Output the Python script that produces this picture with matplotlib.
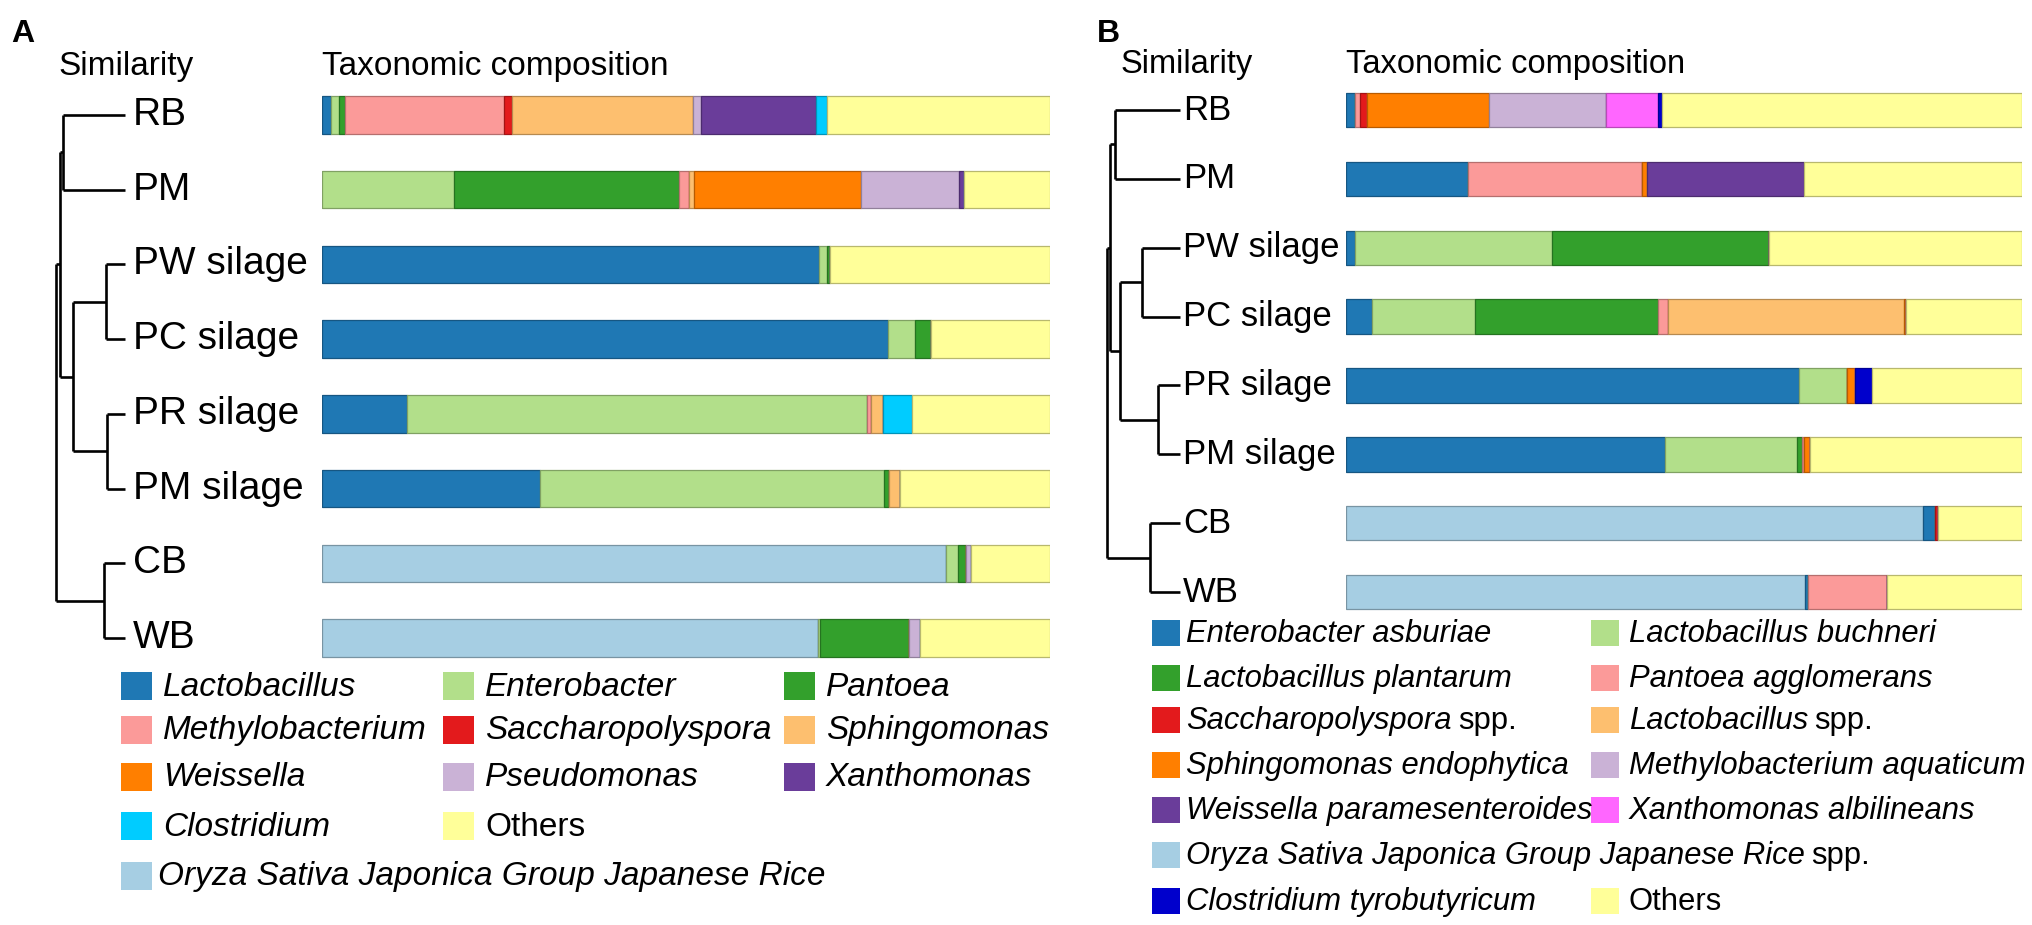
import matplotlib
matplotlib.use("Agg")
import matplotlib.pyplot as plt
from matplotlib.patches import Rectangle
import matplotlib.colors as mcolors
import matplotlib.transforms as mtrans
import numpy as np

plt.rcParams['font.family'] = ['Liberation Sans', 'DejaVu Sans']

# ---------------- data ----------------
samples = ["RB", "PM", "PW silage", "PC silage", "PR silage", "PM silage", "CB", "WB"]

# Panel A: genus level (%), rows follow `samples`
A_taxa = ["Oryza", "Lactobacillus", "Enterobacter", "Pantoea", "Methylobacterium",
          "Saccharopolyspora", "Sphingomonas", "Weissella", "Pseudomonas",
          "Xanthomonas", "Clostridium", "Others"]
A_oryza = [0, 0, 0, 0, 0, 0, 85.7, 68.1]
A_lacto = [1.2, 0, 68.3, 77.8, 11.7, 30.0, 0, 0]
A_entero = [1.2, 18.2, 1.1, 3.7, 63.1, 47.2, 1.6, 0.3]
A_pantoea = [0.8, 30.9, 0.4, 2.1, 0, 0.7, 1.2, 12.3]
A_methylo = [21.8, 1.3, 0, 0, 0.6, 0, 0, 0]
A_sacchar = [1.1, 0, 0, 0, 0, 0, 0, 0]
A_sphingo = [24.8, 0.7, 0, 0, 1.7, 1.5, 0, 0]
A_weiss = [0, 23.0, 0, 0, 0, 0, 0, 0]
A_pseudo = [1.2, 13.4, 0, 0, 0, 0, 0.7, 1.5]
A_xantho = [15.8, 0.7, 0, 0, 0, 0, 0, 0]
A_clostr = [1.4, 0, 0, 0, 3.9, 0, 0, 0]
A_others = [30.7, 11.8, 30.2, 16.4, 19.0, 20.6, 10.8, 17.8]

# Panel B: species level (%)
B_taxa = ["Oryza", "Enterobacter asburiae", "Lactobacillus buchneri", "Lactobacillus plantarum",
          "Pantoea agglomerans", "Saccharopolyspora spp.", "Lactobacillus spp.",
          "Sphingomonas endophytica", "Methylobacterium aquaticum",
          "Weissella paramesenteroides", "Xanthomonas albilineans",
          "Clostridium tyrobutyricum", "Others"]
B_oryza = [0, 0, 0, 0, 0, 0, 85.4, 67.9]
B_ent_asb = [1.3, 18.0, 1.3, 3.9, 67.0, 47.2, 1.8, 0.4]
B_l_buch = [0, 0, 29.2, 15.2, 7.1, 19.5, 0, 0]
B_l_plant = [0, 0, 32.1, 27.0, 0, 0.7, 0, 0]
B_pant_agg = [0.7, 25.8, 0, 1.6, 0, 0.4, 0, 11.8]
B_sacch = [1.1, 0, 0, 0, 0, 0, 0.4, 0]
B_lacto_spp = [0, 0, 0, 34.8, 0, 0, 0, 0]
B_sph_endo = [18.0, 0.7, 0, 0.3, 1.2, 0.9, 0, 0]
B_meth_aq = [17.4, 0, 0, 0, 0, 0, 0, 0]
B_weiss = [0, 23.3, 0, 0, 0, 0, 0, 0]
B_xanth = [7.7, 0, 0, 0, 0, 0, 0, 0]
B_clos = [0.5, 0, 0, 0, 2.5, 0, 0, 0]
B_others = [53.3, 32.2, 37.4, 17.2, 22.2, 31.3, 12.4, 19.9]

A_values = [A_oryza, A_lacto, A_entero, A_pantoea, A_methylo, A_sacchar, A_sphingo,
            A_weiss, A_pseudo, A_xantho, A_clostr, A_others]
B_values = [B_oryza, B_ent_asb, B_l_buch, B_l_plant, B_pant_agg, B_sacch, B_lacto_spp,
            B_sph_endo, B_meth_aq, B_weiss, B_xanth, B_clos, B_others]

A_colors = ["#a6cee3", "#1f78b4", "#b2df8a", "#33a02c", "#fb9a99", "#e31a1c", "#fdbf6f",
            "#ff7f00", "#cab2d6", "#6a3d9a", "#00ccff", "#ffff99"]
B_colors = ["#a6cee3", "#1f78b4", "#b2df8a", "#33a02c", "#fb9a99", "#e31a1c", "#fdbf6f",
            "#ff7f00", "#cab2d6", "#6a3d9a", "#ff66ff", "#0000cc", "#ffff99"]

# dendrograms: (child_a, child_b, distance); leaves 0..7, new nodes 8..14
A_linkage = [(0, 1, 62), (2, 3, 19), (4, 5, 18), (6, 7, 21), (9, 10, 52), (8, 12, 65), (13, 11, 69)]
B_linkage = [(0, 1, 65), (2, 3, 38), (4, 5, 22), (6, 7, 30), (9, 10, 60), (8, 12, 70), (13, 11, 73)]

# legends
A_legend_rows = [["Lactobacillus", "Enterobacter", "Pantoea"],
                 ["Methylobacterium", "Saccharopolyspora", "Sphingomonas"],
                 ["Weissella", "Pseudomonas", "Xanthomonas"],
                 ["Clostridium", "Others"],
                 ["Oryza"]]
A_legend_names = {"Oryza": "Oryza Sativa Japonica Group Japanese Rice"}
B_legend_rows = [["Enterobacter asburiae", "Lactobacillus buchneri"],
                 ["Lactobacillus plantarum", "Pantoea agglomerans"],
                 ["Saccharopolyspora spp.", "Lactobacillus spp."],
                 ["Sphingomonas endophytica", "Methylobacterium aquaticum"],
                 ["Weissella paramesenteroides", "Xanthomonas albilineans"],
                 ["Oryza"],
                 ["Clostridium tyrobutyricum", "Others"]]
B_legend_names = {"Oryza": "Oryza Sativa Japonica Group Japanese Rice spp."}

# ---------------- layout ----------------
W, H = 2033, 925
fig = plt.figure(figsize=(W / 100, H / 100), dpi=100)


def rect(x0, y0, x1, y1):
    return [x0 / W, 1 - y1 / H, (x1 - x0) / W, (y1 - y0) / H]


def darker(c, f=0.72):
    r, g, b = mcolors.to_rgb(c)
    return (r * f, g * f, b * f)


n = len(samples)


def draw_bars(ax, values, colors):
    ypos = np.arange(n)
    left = np.zeros(n)
    for vals, col in zip(values, colors):
        vals = np.array(vals, dtype=float)
        ax.barh(ypos, vals, left=left, height=0.5, color=col,
                edgecolor=darker(col), linewidth=0.9)
        left += vals
    ax.set_xlim(0, 100)
    ax.set_ylim(n - 0.5, -0.5)
    ax.axis('off')


def draw_dendro(ax, linkage, xlim):
    pos = {i: (0.0, float(i)) for i in range(n)}  # node -> (distance, y)
    nid = n
    for a, b, d in linkage:
        da, ya = pos[a]
        db, yb = pos[b]
        ax.plot([da, d], [ya, ya], color='black', lw=1.9, solid_capstyle='butt')
        ax.plot([db, d], [yb, yb], color='black', lw=1.9, solid_capstyle='butt')
        ax.plot([d, d], [ya, yb], color='black', lw=1.9, solid_capstyle='butt')
        pos[nid] = (d, (ya + yb) / 2)
        nid += 1
    ax.set_xlim(*xlim)
    ax.set_ylim(n - 0.5, -0.5)
    ax.axis('off')


# Panel A
sA = (638 - 115) / 7
axA = fig.add_axes(rect(322, 115 - sA / 2, 1050, 638 + sA / 2))
draw_bars(axA, A_values, A_colors)
dA = fig.add_axes(rect(40, 115 - sA / 2, 130, 638 + sA / 2))
draw_dendro(dA, A_linkage, (85, -5))

# Panel B
sB = (592 - 110) / 7
axB = fig.add_axes(rect(1346, 110 - sB / 2, 2022, 592 + sB / 2))
draw_bars(axB, B_values, B_colors)
dB = fig.add_axes(rect(1090, 110 - sB / 2, 1185, 592 + sB / 2))
draw_dendro(dB, B_linkage, (90, -5))

# sample labels
trA = mtrans.blended_transform_factory(fig.transFigure, axA.transData)
trB = mtrans.blended_transform_factory(fig.transFigure, axB.transData)
for i, s in enumerate(samples):
    fig.text(133 / W, i, s, transform=trA, fontsize=28, va='center', ha='left')
    fig.text(1183 / W, i, s, transform=trB, fontsize=25, va='center', ha='left')

# overlay axes in pixel coordinates for titles / legends
ov = fig.add_axes([0, 0, 1, 1])
ov.set_xlim(0, W)
ov.set_ylim(H, 0)
ov.axis('off')
ov.patch.set_alpha(0)

ov.text(11, 42, "A", fontsize=23, fontweight='bold', va='baseline')
ov.text(1097, 42, "B", fontsize=23, fontweight='bold', va='baseline')
ov.text(58, 75, "Similarity", fontsize=24, va='baseline')
ov.text(322, 75, "Taxonomic composition", fontsize=24, va='baseline')
ov.text(1121, 73, "Similarity", fontsize=23.5, va='baseline')
ov.text(1346, 73, "Taxonomic composition", fontsize=23.5, va='baseline')

renderer = fig.canvas.get_renderer()


def legend_label(x, y, label, fs):
    if label == "Others":
        ov.text(x, y, label, fontsize=fs, va='center', ha='left')
        return
    if label.endswith(" spp."):
        base = label[:-5]
        t = ov.text(x, y, base, fontsize=fs, va='center', ha='left', style='italic')
        bb = t.get_window_extent(renderer)
        ov.text(bb.x1 + fs * 0.28, y, "spp.", fontsize=fs, va='center', ha='left')
        return
    ov.text(x, y, label, fontsize=fs, va='center', ha='left', style='italic')


# legend A
A_rows_y = [686, 730, 777, 826, 876]
A_sq_x = [121, 443, 784]
A_tx_x = [163, 485, 826]
for r, row in enumerate(A_legend_rows):
    for c, key in enumerate(row):
        col = A_colors[A_taxa.index(key)]
        y = A_rows_y[r]
        ov.add_patch(Rectangle((A_sq_x[c], y - 14), 31, 28, color=col, lw=0))
        tx = A_tx_x[c] if key != "Oryza" else 158
        legend_label(tx, y + 1, A_legend_names.get(key, key), 24)

# legend B
B_rows_y = [633, 678, 720, 765, 810, 855, 901]
B_sq_x = [1152, 1591]
B_tx_x = [1186, 1629]
for r, row in enumerate(B_legend_rows):
    for c, key in enumerate(row):
        col = B_colors[B_taxa.index(key)]
        y = B_rows_y[r]
        ov.add_patch(Rectangle((B_sq_x[c], y - 13), 28, 26, color=col, lw=0))
        legend_label(B_tx_x[c], y + 1, B_legend_names.get(key, key), 22.3)

fig.savefig("out.png", dpi=100)
